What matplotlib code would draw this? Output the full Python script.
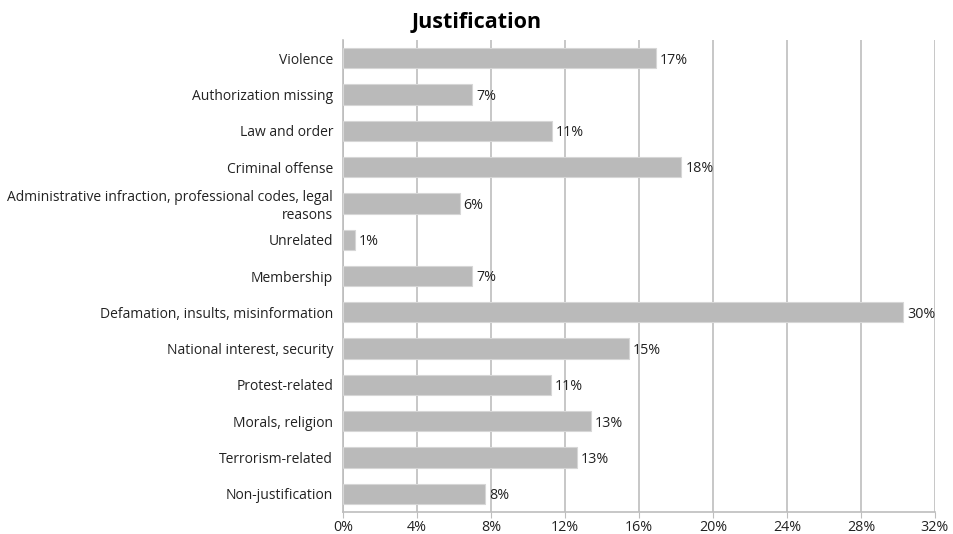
import matplotlib
matplotlib.use("Agg")
import matplotlib.pyplot as plt

categories = [
    "Violence",
    "Authorization missing",
    "Law and order",
    "Criminal offense",
    "Administrative infraction, professional codes, legal\nreasons",
    "Unrelated",
    "Membership",
    "Defamation, insults, misinformation",
    "National interest, security",
    "Protest-related",
    "Morals, religion",
    "Terrorism-related",
    "Non-justification",
]
values = [16.9, 7.0, 11.3, 18.3, 6.3, 0.65, 7.0, 30.3, 15.45, 11.25, 13.4, 12.65, 7.7]
xticks = [0, 4, 8, 12, 16, 20, 24, 28, 32]

plt.rcParams["font.family"] = ["Open Sans", "DejaVu Sans"]

fig = plt.figure(figsize=(9.54, 5.34), dpi=100)
ax = fig.add_axes([0.3595, 0.0412, 0.6205, 0.8838])

gridColor = "#bdbdbd"
ypos = list(range(len(categories)))
ax.barh(ypos, values, height=0.56, color="#bababa", edgecolor="#d6d6d6", linewidth=0.8, zorder=3)

# value labels just right of each bar
for y, v in zip(ypos, values):
    ax.text(v + 0.22, y + 0.05, f"{v:.0f}%", va="center", ha="left", fontsize=10.3, color="#222222", zorder=4)

ax.set_xlim(0, 32)
ax.set_ylim(len(categories) - 0.5, -0.5)
ax.set_yticks(ypos)
ax.set_yticklabels(categories, fontsize=10, color="#222222")
ax.set_xticks(xticks)
ax.set_xticklabels([f"{t}%" for t in xticks], fontsize=10.3, color="#222222")

ax.grid(axis="x", color=gridColor, linewidth=1.2, zorder=0)
for side in ["top", "right"]:
    ax.spines[side].set_visible(False)
for side in ["left", "bottom"]:
    ax.spines[side].set_color(gridColor)
    ax.spines[side].set_linewidth(1.2)
ax.tick_params(axis="y", length=0, pad=7)
ax.tick_params(axis="x", length=4, color=gridColor, pad=2)

fig.suptitle("Justification", x=0.5, y=0.978, fontsize=15.5, fontweight="bold")

fig.savefig("out.png", dpi=100)
